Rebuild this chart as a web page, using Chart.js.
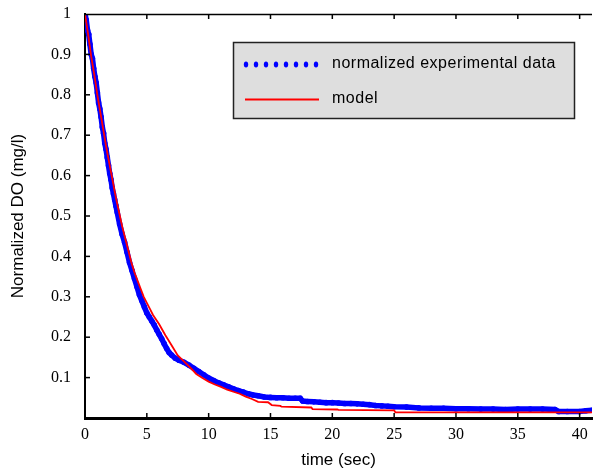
<!DOCTYPE html>
<html>
<head>
<meta charset="utf-8">
<script src="https://cdn.jsdelivr.net/npm/chart.js@4/dist/chart.umd.min.js"></script>
<style>
  html, body { margin: 0; padding: 0; background: #fff; overflow: hidden; }
  #c { display: block; }
</style>
</head>
<body>
<canvas id="c" width="596" height="473"></canvas>
<script>
// ---- data ----
const seriesLabels = ['normalized experimental data', 'model'];
const xTitle = 'time (sec)';
const yTitle = 'Normalized DO (mg/l)';

const expTime = [0.0,0.1,0.2,0.3,0.4,0.5,0.6,0.7,0.8,0.9,1.0,1.1,1.2,1.3,1.4,1.5,1.6,1.7,1.8,1.9,2.0,2.1,2.2,2.3,2.4,2.5,2.6,2.8,3.0,3.2,3.4,3.6,3.8,4.0,4.2,4.4,4.6,4.8,5.0,5.2,5.4,5.6,5.8,6.0,6.2,6.4,6.6,6.8,7.0,7.3,7.6,8.0,8.4,8.8,9.2,9.6,10.0,10.4,10.8,11.2,11.6,12.0,12.4,12.8,13.2,13.6,14.0,14.5,15.0,15.5,16.0,16.5,17.0,17.4,17.6,18.0,18.5,19.0,19.5,20.0,20.5,21.0,21.5,22.0,22.5,23.0,23.5,24.0,24.5,25.0,26.0,27.0,28.0,29.0,30.0,31.0,32.0,33.0,34.0,35.0,36.0,37.0,38.0,38.3,39.0,40.0,40.5,41.0];
const expDO = [1.00,0.985,0.96,0.95,0.925,0.90,0.89,0.865,0.845,0.83,0.805,0.78,0.765,0.745,0.72,0.705,0.68,0.665,0.645,0.625,0.605,0.59,0.57,0.555,0.54,0.525,0.51,0.48,0.455,0.435,0.41,0.385,0.365,0.345,0.325,0.305,0.29,0.275,0.26,0.25,0.24,0.23,0.218,0.207,0.196,0.184,0.172,0.162,0.156,0.148,0.143,0.138,0.131,0.123,0.115,0.107,0.099,0.093,0.087,0.082,0.077,0.072,0.068,0.064,0.060,0.057,0.055,0.052,0.051,0.050,0.050,0.049,0.049,0.049,0.042,0.041,0.040,0.039,0.038,0.038,0.037,0.036,0.036,0.035,0.034,0.033,0.031,0.030,0.029,0.028,0.027,0.025,0.024,0.024,0.023,0.023,0.022,0.022,0.021,0.022,0.022,0.022,0.021,0.016,0.016,0.016,0.018,0.019];

const modelTime = [0,0.25,0.5,0.75,1.0,1.25,1.5,1.75,2.0,2.25,2.5,2.75,3.0,3.25,3.5,3.75,4.0,4.25,4.5,4.75,5.0,5.25,5.5,6.0,6.5,7.0,7.5,8.0,8.5,9.0,9.5,10.0,10.5,11.0,11.5,12.0,12.5,13.0,13.5,14.0,14.8,15.1,15.8,15.9,18.3,18.4,20.4,20.5,25.0,25.1,41.0];
const modelDO = [1.0,0.95,0.895,0.85,0.80,0.755,0.71,0.665,0.625,0.585,0.545,0.51,0.475,0.445,0.415,0.385,0.36,0.34,0.32,0.30,0.285,0.27,0.255,0.232,0.205,0.18,0.155,0.14,0.125,0.109,0.099,0.09,0.083,0.077,0.07,0.065,0.06,0.053,0.047,0.04,0.039,0.032,0.030,0.028,0.026,0.022,0.021,0.020,0.019,0.014,0.014];

const xMin = 0, xMax = 41, xStep = 5;
const yMin = 0, yMax = 1, yStep = 0.1;

// ---- build ----
const expPoints = expTime.map((t, i) => ({ x: t, y: expDO[i] }));
const modelPoints = modelTime.map((t, i) => ({ x: t, y: modelDO[i] }));

const frameTicks = {
  id: 'frameTicks',
  afterDatasetsDraw(chart) {
    const { ctx, chartArea: a, scales: { x, y } } = chart;
    ctx.save();
    ctx.strokeStyle = '#000';
    ctx.lineWidth = 1.5;
    ctx.beginPath();
    ctx.moveTo(a.left, a.top + 0.5);
    ctx.lineTo(a.right, a.top + 0.5);
    ctx.stroke();
    x.ticks.forEach(t => {
      const px = x.getPixelForValue(t.value);
      if (px <= a.left + 2) return;
      ctx.beginPath();
      ctx.moveTo(px, a.bottom); ctx.lineTo(px, a.bottom - 5);
      ctx.moveTo(px, a.top); ctx.lineTo(px, a.top + 5);
      ctx.stroke();
    });
    y.ticks.forEach(t => {
      const py = y.getPixelForValue(t.value);
      if (py >= a.bottom - 2 || py <= a.top + 2) return;
      ctx.beginPath();
      ctx.moveTo(a.left, py); ctx.lineTo(a.left + 5, py);
      ctx.stroke();
    });
    ctx.restore();
  }
};

const boxLegend = {
  id: 'boxLegend',
  afterDraw(chart) {
    const ctx = chart.ctx;
    const ds = chart.data.datasets;
    ctx.save();
    ctx.fillStyle = '#dedede';
    ctx.fillRect(233.5, 42.5, 341, 76);
    ctx.strokeStyle = '#222';
    ctx.lineWidth = 1.5;
    ctx.strokeRect(233.5, 42.5, 341, 76);
    ctx.fillStyle = ds[1].borderColor;
    for (let i = 0; i < 8; i++) {
      ctx.beginPath();
      ctx.ellipse(246 + i * 10, 64.5, 2.2, 2.9, 0, 0, Math.PI * 2);
      ctx.fill();
    }
    ctx.strokeStyle = ds[0].borderColor;
    ctx.lineWidth = 2;
    ctx.beginPath();
    ctx.moveTo(245, 99.5); ctx.lineTo(319, 99.5);
    ctx.stroke();
    ctx.fillStyle = '#000';
    ctx.font = '16px "Liberation Sans", Arial, sans-serif';
    try { ctx.letterSpacing = '0.5px'; } catch (e) {}
    ctx.textBaseline = 'middle';
    ctx.textAlign = 'left';
    ctx.fillText(ds[1].label, 332, 64);
    ctx.fillText(ds[0].label, 332, 99);
    ctx.restore();
  }
};

new Chart(document.getElementById('c'), {
  type: 'scatter',
  data: {
    datasets: [
      {
        label: seriesLabels[1],
        data: modelPoints,
        showLine: true,
        borderColor: '#ff0000',
        backgroundColor: '#ff0000',
        borderWidth: 1.8,
        pointRadius: 0,
        tension: 0,
        order: 0
      },
      {
        label: seriesLabels[0],
        data: expPoints,
        showLine: true,
        borderColor: '#0000ff',
        backgroundColor: '#0000ff',
        borderWidth: 5.5,
        pointRadius: 2.8,
        pointBorderWidth: 0,
        tension: 0,
        order: 1
      }
    ]
  },
  options: {
    responsive: false,
    animation: false,
    devicePixelRatio: 1,
    layout: { padding: { top: 14, left: 0, right: 0, bottom: 0 } },
    plugins: { legend: { display: false }, tooltip: { enabled: false } },
    scales: {
      x: {
        type: 'linear',
        position: 'bottom',
        min: xMin, max: xMax,
        afterFit: s => { s.height = 55; },
        ticks: {
          stepSize: xStep,
          includeBounds: false,
          maxRotation: 0,
          padding: 7,
          color: '#000',
          font: { family: '"Liberation Serif", "Times New Roman", serif', size: 16 }
        },
        grid: { drawOnChartArea: false, drawTicks: false, color: '#000' },
        border: { display: true, color: '#000', width: 3 },
        title: {
          display: true, text: xTitle, color: '#000',
          font: { family: '"Liberation Sans", Arial, sans-serif', size: 17 },
          padding: { top: 0, bottom: 2 }
        }
      },
      y: {
        min: yMin, max: yMax,
        afterFit: s => { s.width = 85; },
        ticks: {
          stepSize: yStep,
          padding: 0,
          color: '#000',
          font: { family: '"Liberation Serif", "Times New Roman", serif', size: 16 },
          callback: v => Math.abs(v) < 1e-9 ? '' : String(Math.round(v * 10) / 10)
        },
        grid: { drawOnChartArea: false, drawTicks: true, tickLength: 14, color: 'rgba(0,0,0,0)', tickColor: 'rgba(0,0,0,0)' },
        border: { display: true, color: '#000', width: 2 },
        title: {
          display: true, text: yTitle, color: '#000',
          font: { family: '"Liberation Sans", Arial, sans-serif', size: 17 },
          padding: { top: 8, bottom: 0 }
        }
      }
    }
  },
  plugins: [frameTicks, boxLegend]
});
</script>
</body>
</html>
